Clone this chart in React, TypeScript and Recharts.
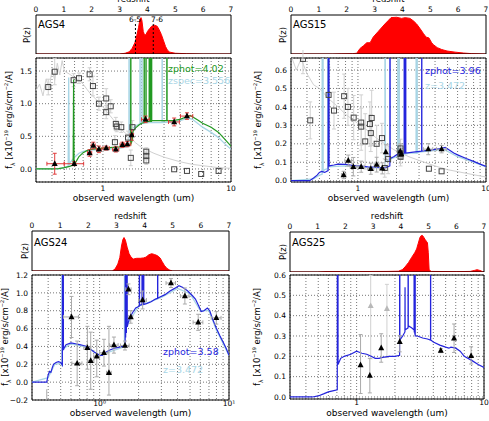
import React from "react";
import {
  ComposedChart,
  AreaChart,
  Area,
  Line,
  Scatter,
  ErrorBar,
  XAxis,
  YAxis,
  CartesianGrid,
  ReferenceArea,
  ReferenceLine,
} from "recharts";

type Pt = [number, number];

const FONT = "'DejaVu Sans', sans-serif";
const RED = "#ff0000";
const GREEN = "#229922";
const BLUE = "#2424dc";
const LIGHTBLUE = "#a8d5e5";
const GREY = "#d0d0d0";

const zTicks = [0, 1, 2, 3, 4, 5, 6, 7];
const lamTicks = [0.3, 0.4, 0.5, 0.6, 0.7, 0.8, 0.9, 1, 2, 3, 4, 5, 6, 7, 8, 9, 10];

// P(z) curves
const pz4: Pt[] = [[0, 0], [3.0, 0], [3.2, 0.02], [3.35, 0.06], [3.45, 0.15], [3.55, 0.3], [3.62, 0.5], [3.68, 0.7], [3.73, 0.92], [3.77, 0.97], [3.8, 0.9], [3.85, 0.6], [3.9, 0.5], [3.95, 0.52], [4.0, 0.6], [4.08, 0.68], [4.15, 0.74], [4.25, 0.77], [4.35, 0.74], [4.42, 0.65], [4.5, 0.52], [4.58, 0.35], [4.65, 0.2], [4.72, 0.1], [4.8, 0.05], [5.0, 0.02], [5.4, 0.008], [6.0, 0], [7, 0]];
const pz15: Pt[] = [[0, 0], [1.5, 0], [1.8, 0.005], [2.2, 0.01], [2.36, 0.02], [2.48, 0.15], [2.6, 0.22], [2.72, 0.3], [2.84, 0.3], [2.95, 0.45], [3.13, 0.6], [3.37, 0.8], [3.5, 0.9], [3.59, 0.97], [3.79, 0.98], [3.97, 0.95], [4.1, 0.97], [4.27, 0.95], [4.4, 0.88], [4.51, 0.8], [4.63, 0.68], [4.75, 0.55], [4.85, 0.45], [4.95, 0.43], [5.05, 0.3], [5.11, 0.25], [5.25, 0.17], [5.41, 0.12], [5.6, 0.08], [5.89, 0.05], [6.2, 0.025], [6.49, 0.01], [7, 0]];
const pz24: Pt[] = [[0, 0], [2.85, 0], [2.95, 0.05], [3.05, 0.18], [3.12, 0.35], [3.18, 0.65], [3.23, 0.82], [3.27, 0.87], [3.32, 0.8], [3.38, 0.62], [3.45, 0.45], [3.52, 0.36], [3.6, 0.31], [3.72, 0.33], [3.85, 0.33], [3.96, 0.34], [4.05, 0.36], [4.15, 0.42], [4.25, 0.45], [4.35, 0.43], [4.45, 0.4], [4.55, 0.34], [4.62, 0.25], [4.7, 0.15], [4.79, 0.07], [4.9, 0.02], [5.0, 0], [7, 0]];
const pz25: Pt[] = [[0, 0], [1.0, 0], [1.3, 0.01], [2.5, 0.012], [3.5, 0.015], [3.91, 0.02], [4.05, 0.06], [4.15, 0.13], [4.28, 0.25], [4.39, 0.38], [4.5, 0.5], [4.57, 0.6], [4.63, 0.75], [4.69, 0.9], [4.74, 0.95], [4.78, 0.95], [4.83, 0.9], [4.87, 0.85], [4.92, 0.8], [4.96, 0.76], [4.99, 0.5], [5.02, 0.05], [5.1, 0.015], [6.0, 0.01], [6.5, 0.015], [6.65, 0.04], [6.75, 0.06], [6.85, 0.04], [6.95, 0.01], [7, 0.005]];

// AGS4 SED
const sed4Model: Pt[] = [[0.3, 0], [0.4, 0], [0.45, 0.005], [0.5, 0.02], [0.55, 0.04], [0.585, 0.06], [0.59, 1.37], [0.595, 0.07], [0.62, 0.12], [0.65, 0.19], [0.7, 0.25], [0.75, 0.28], [0.8, 0.3], [0.9, 0.31], [1.0, 0.32], [1.2, 0.33], [1.4, 0.34], [1.55, 0.36], [1.645, 0.37], [1.65, 5], [1.655, 0.38], [1.7, 0.45], [1.72, 0.58], [1.8, 0.63], [1.9, 0.67], [2.0, 0.7], [2.095, 0.71], [2.1, 5], [2.105, 0.71], [2.165, 0.72], [2.17, 5], [2.175, 0.72], [2.295, 0.73], [2.3, 5], [2.305, 0.73], [2.345, 0.73], [2.35, 5], [2.355, 0.73], [2.395, 0.73], [2.4, 5], [2.405, 0.74], [2.7, 0.74], [3.15, 0.74], [3.16, 5], [3.17, 0.74], [3.5, 0.74], [4.0, 0.76], [4.5, 0.8], [4.8, 0.82], [5.5, 0.75], [6.0, 0.7], [7.0, 0.64], [8.0, 0.56], [9.0, 0.45], [10, 0.35]];
const sed4Spec: Pt[] = [[0.3, 0], [0.45, 0], [0.5, 0.02], [0.535, 0.04], [0.54, 1.4], [0.545, 0.05], [0.55, 0.09], [0.6, 0.18], [0.65, 0.24], [0.7, 0.27], [0.8, 0.29], [1.0, 0.3], [1.3, 0.31], [1.55, 0.34], [1.595, 0.35], [1.6, 5], [1.605, 0.5], [1.65, 0.6], [1.8, 0.66], [1.945, 0.69], [1.95, 5], [1.955, 0.7], [2.015, 0.7], [2.02, 5], [2.025, 0.7], [2.3, 0.71], [2.895, 0.71], [2.9, 5], [2.905, 0.71], [3.5, 0.72], [4.0, 0.74], [4.6, 0.78], [5.0, 0.76], [6.0, 0.64], [7.0, 0.56], [8.0, 0.48], [9.0, 0.38], [10, 0.3]];
const sed4Alt: Pt[] = [[0.3, 1.2], [0.32, 1.3], [0.34, 1.12], [0.36, 1.38], [0.38, 1.22], [0.4, 1.52], [0.42, 1.36], [0.44, 1.62], [0.46, 1.44], [0.48, 1.66], [0.5, 1.5], [0.55, 1.45], [0.6, 1.4], [0.65, 1.36], [0.7, 1.3], [0.75, 1.22], [0.8, 1.15], [0.9, 1.05], [1.0, 0.95], [1.1, 0.85], [1.2, 0.76], [1.4, 0.6], [1.6, 0.5], [1.8, 0.4], [2.0, 0.33], [2.5, 0.24], [3.0, 0.18], [4.0, 0.11], [5.0, 0.07], [6.0, 0.05], [8.0, 0.02], [10, 0.01]];
const sed4Phot = [
  { x: 0.42, y: 0.08, ex: [0.055, 0.08], ey: 0.16 },
  { x: 0.597, y: 0.08, ex: [0.1, 0.11], ey: 0.03 },
  { x: 0.787, y: 0.245, ex: 0.03, ey: 0.05 },
  { x: 0.84, y: 0.36, ex: 0.03, ey: 0.05 },
  { x: 0.93, y: 0.3, ex: 0.04, ey: 0.05 },
  { x: 1.06, y: 0.32, ex: 0.06, ey: 0.03 },
  { x: 1.26, y: 0.3, ex: 0.07, ey: 0.04 },
  { x: 1.42, y: 0.37, ex: 0.06, ey: 0.04 },
  { x: 1.55, y: 0.38, ex: 0.1, ey: 0.04 },
  { x: 1.68, y: 0.52, ex: 0.05, ey: 0.08 },
  { x: 2.15, y: 0.76, ex: 0.15, ey: 0.05 },
  { x: 3.6, y: 0.72, ex: 0.35, ey: 0.06 },
  { x: 4.53, y: 0.81, ex: 0.5, ey: 0.05 },
];
const sed4Sq = [
  { x: 0.374, y: 1.255, ey: 0.12 }, { x: 0.42, y: 1.49, ey: 0.2 }, { x: 0.59, y: 1.36, ey: 0.1 },
  { x: 0.65, y: 1.39, ey: 0.08 }, { x: 0.787, y: 1.45, ey: 0.1 }, { x: 0.835, y: 1.27, ey: 0.15 },
  { x: 0.93, y: 1.0, ey: 0.1 }, { x: 1.06, y: 1.08, ey: 0.15 }, { x: 1.06, y: 0.87, ey: 0.1 },
  { x: 1.15, y: 0.96, ey: 0.1 }, { x: 1.26, y: 0.69, ey: 0.1 }, { x: 1.28, y: 0.65, ey: 0.08 },
  { x: 1.39, y: 0.64, ey: 0.08 }, { x: 1.24, y: 0.41, ey: 0.1 }, { x: 1.57, y: 0.48, ey: 0.1 },
  { x: 1.7, y: 0.64, ey: 0.1 }, { x: 1.65, y: 0.17, ey: 0.12 }, { x: 2.18, y: 0.265, ey: 0.06 },
  { x: 2.18, y: 0.2, ey: 0.06 }, { x: 2.18, y: 0.13, ey: 0.06 }, { x: 3.6, y: -0.005 },
  { x: 4.53, y: -0.03 }, { x: 5.85, y: -0.077 }, { x: 8.0, y: -0.03 },
];

// AGS15 SED
const sed15Model: Pt[] = [[0.3, 0], [0.42, 0], [0.45, 0.015], [0.48, 0.03], [0.5, 0.045], [0.52, 0.05], [0.55, 0.045], [0.585, 0.055], [0.59, 5], [0.595, 0.08], [0.65, 0.085], [0.7, 0.09], [0.8, 0.088], [0.9, 0.083], [1.0, 0.08], [1.2, 0.075], [1.4, 0.073], [1.6, 0.07], [1.7, 0.075], [1.775, 0.08], [1.78, 5], [1.785, 0.12], [1.9, 0.13], [2.0, 0.14], [2.1, 0.145], [2.295, 0.15], [2.3, 5], [2.305, 0.15], [2.325, 0.15], [2.33, 5], [2.335, 0.15], [2.355, 0.15], [2.36, 5], [2.365, 0.15], [2.7, 0.155], [3.145, 0.16], [3.15, 5], [3.155, 0.16], [3.6, 0.165], [4.0, 0.17], [4.5, 0.175], [4.8, 0.18], [5.2, 0.165], [5.6, 0.15], [6.0, 0.14], [7.0, 0.12], [8.0, 0.105], [9.0, 0.09], [10, 0.078]];
const sed15Spec: Pt[] = [[0.3, 0], [0.45, 0.01], [0.5, 0.03], [0.525, 0.035], [0.53, 5], [0.535, 0.05], [0.55, 0.06], [0.58, 0.065], [0.585, 5], [0.59, 0.075], [0.8, 0.08], [1.0, 0.075], [1.5, 0.068], [1.625, 0.07], [1.63, 5], [1.635, 0.1], [1.7, 0.11], [2.0, 0.13], [2.045, 0.13], [2.05, 5], [2.055, 0.13], [2.095, 0.13], [2.1, 5], [2.105, 0.135], [2.5, 0.15], [2.845, 0.15], [2.85, 5], [2.855, 0.15], [2.895, 0.15], [2.9, 5], [2.905, 0.15], [3.0, 0.155], [4.0, 0.165], [4.7, 0.17], [6.0, 0.13], [8.0, 0.1], [10, 0.075]];
const sed15Alt: Pt[] = [[0.3, 0.68], [0.33, 0.6], [0.36, 0.66], [0.4, 0.58], [0.45, 0.52], [0.5, 0.5], [0.6, 0.44], [0.7, 0.4], [0.8, 0.36], [1.0, 0.31], [1.2, 0.27], [1.4, 0.23], [1.7, 0.19], [2.0, 0.16], [2.5, 0.13], [3.0, 0.11], [4.0, 0.08], [5.0, 0.06], [7.0, 0.04], [10, 0.02]];
const sed15Phot = [
  { x: 0.773, y: 0.031, ey: 0.02, ex: 0.03 }, { x: 0.84, y: 0.109, ey: 0.03, ex: 0.05 },
  { x: 0.92, y: 0.076, ey: 0.05, ex: 0.05 }, { x: 1.06, y: 0.076, ey: 0.03, ex: 0.06 },
  { x: 1.26, y: 0.065, ey: 0.03, ex: 0.07 }, { x: 1.4, y: 0.087, ey: 0.04, ex: 0.06 },
  { x: 1.55, y: 0.067, ey: 0.03, ex: 0.08 }, { x: 1.65, y: 0.155, ey: 0.04 },
  { x: 2.14, y: 0.16, ey: 0.04, ex: 0.12 }, { x: 2.18, y: 0.145, ey: 0.03 },
  { x: 3.54, y: 0.171, ey: 0.03, ex: 0.3 }, { x: 4.5, y: 0.171, ey: 0.02, ex: 0.4 },
];
const sed15Sq = [
  { x: 0.372, y: 0.66, ey: 0.08 }, { x: 0.424, y: 0.327, ey: 0.1 }, { x: 0.59, y: 0.465, ey: 0.15 },
  { x: 0.65, y: 0.38, ey: 0.1 }, { x: 0.78, y: 0.458, ey: 0.12 }, { x: 0.835, y: 0.4, ey: 0.1 },
  { x: 0.926, y: 0.342, ey: 0.12 }, { x: 1.06, y: 0.315, ey: 0.15 }, { x: 1.06, y: 0.293, ey: 0.1 },
  { x: 1.14, y: 0.213, ey: 0.15 }, { x: 1.24, y: 0.307, ey: 0.12 }, { x: 1.28, y: 0.34, ey: 0.15 },
  { x: 1.26, y: 0.258, ey: 0.1 }, { x: 1.4, y: 0.2, ey: 0.1 }, { x: 1.54, y: 0.231, ey: 0.08 },
  { x: 1.62, y: 0.069, ey: 0.05 }, { x: 1.72, y: 0.118, ey: 0.08 }, { x: 2.15, y: 0.175, ey: 0.05 },
  { x: 2.15, y: 0.145, ey: 0.05 }, { x: 2.15, y: 0.13, ey: 0.05 }, { x: 3.58, y: 0.065 }, { x: 4.5, y: 0.051 },
];

// AGS24 SED
const sed24Model: Pt[] = [[0.3, 0], [0.39, 0], [0.4, 0.08], [0.41, 0.12], [0.42, 0.11], [0.43, 0.16], [0.44, 0.2], [0.46, 0.22], [0.48, 0.23], [0.5, 0.22], [0.515, 0.19], [0.52, 5], [0.525, 0.36], [0.53, 0.38], [0.55, 0.42], [0.6, 0.44], [0.65, 0.43], [0.7, 0.42], [0.75, 0.41], [0.8, 0.4], [0.85, 0.37], [0.9, 0.34], [0.95, 0.32], [1.0, 0.3], [1.05, 0.3], [1.1, 0.33], [1.2, 0.36], [1.3, 0.38], [1.4, 0.39], [1.5, 0.4], [1.575, 0.42], [1.58, 5], [1.59, 0.5], [1.6, 5], [1.61, 0.55], [1.625, 5], [1.635, 0.62], [1.7, 0.72], [1.8, 0.78], [1.9, 0.83], [2.025, 0.85], [2.03, 5], [2.035, 0.86], [2.125, 0.87], [2.13, 5], [2.135, 0.87], [2.155, 0.87], [2.16, 5], [2.165, 0.87], [2.185, 0.87], [2.19, 5], [2.195, 0.87], [2.3, 0.88], [2.5, 0.9], [2.7, 0.93], [2.805, 0.94], [2.81, 5], [2.815, 0.94], [2.9, 0.95], [3.2, 0.98], [3.5, 1.02], [3.8, 1.05], [4.1, 1.08], [4.4, 1.06], [4.8, 1.02], [5.2, 0.97], [5.5, 0.93], [5.8, 0.86], [6.1, 0.79], [6.4, 0.8], [6.8, 0.83], [7.1, 0.8], [7.5, 0.7], [8.0, 0.6], [8.5, 0.52], [9.0, 0.45], [9.5, 0.38], [10, 0.3]];
const sed24Spec: Pt[] = [[0.3, 0], [0.4, 0.05], [0.45, 0.2], [0.5, 0.21], [0.51, 0.19], [0.515, 5], [0.52, 0.37], [0.6, 0.43], [0.8, 0.39], [1.0, 0.3], [1.5, 0.39], [1.555, 0.4], [1.56, 5], [1.565, 0.6], [2.0, 0.85], [3.0, 0.95], [4.0, 1.05], [5.0, 0.99], [6.0, 0.8], [7.0, 0.8], [8.0, 0.58], [10, 0.3]];
const sed24Phot = [
  { x: 0.606, y: 0.73, ey: 0.23, ex: 0.08 }, { x: 0.67, y: 0.21, ey: 0.25, ex: 0.06 },
  { x: 0.804, y: 0.385, ey: 0.24, ex: 0.05 }, { x: 0.853, y: 0.24, ey: 0.32, ex: 0.05 },
  { x: 0.95, y: 0.29, ey: [0.23, 0.18], ex: 0.05 }, { x: 1.08, y: 0.33, ey: 0.15, ex: 0.08 },
  { x: 1.18, y: 0.105, ey: [0.25, 0.52], ex: 0.05 }, { x: 1.29, y: 0.415, ey: 0.09, ex: 0.1 },
  { x: 1.57, y: 0.41, ey: 0.05, ex: 0.12 }, { x: 1.67, y: 1.04, ey: 0.06, ex: 0.08 },
  { x: 1.74, y: 0.73, ey: 0.07, ex: 0.06 }, { x: 2.15, y: 0.92, ey: 0.1, ex: 0.15 },
  { x: 3.56, y: 1.11, ey: 0.05, ex: 0.3 }, { x: 4.56, y: 0.965, ey: 0.09, ex: 0.35 },
  { x: 5.78, y: 0.67, ey: 0.09, ex: 0.5 }, { x: 7.98, y: 0.72, ey: 0.07, ex: 0.7 },
];
// the upper part of an error bar whose point lies below the frame
const sed24Low = [{ x: 0.39, y: -0.14, ey: 0.06 }];

// AGS25 SED
const sed25Model: Pt[] = [[0.3, 0], [0.45, 0], [0.5, 0.005], [0.55, 0.015], [0.6, 0.025], [0.65, 0.03], [0.705, 0.035], [0.71, 5], [0.715, 0.16], [0.75, 0.19], [0.8, 0.2], [0.9, 0.21], [1.0, 0.225], [1.05, 0.22], [1.1, 0.215], [1.2, 0.21], [1.3, 0.2], [1.4, 0.19], [1.5, 0.19], [1.6, 0.195], [1.8, 0.2], [2.0, 0.2], [2.175, 0.205], [2.18, 5], [2.185, 0.28], [2.3, 0.3], [2.395, 0.32], [2.4, 0.54], [2.405, 0.33], [2.535, 0.34], [2.54, 5], [2.545, 0.35], [2.7, 0.34], [2.825, 0.33], [2.83, 5], [2.835, 0.32], [2.855, 0.32], [2.86, 5], [2.865, 0.31], [2.875, 0.31], [2.88, 5], [2.885, 0.3], [3.0, 0.3], [3.3, 0.29], [3.6, 0.285], [3.805, 0.28], [3.81, 5], [3.815, 0.28], [4.0, 0.27], [4.5, 0.255], [5.0, 0.245], [5.3, 0.24], [5.5, 0.245], [6.0, 0.24], [6.5, 0.225], [7.0, 0.2], [8.0, 0.18], [9.0, 0.16], [10, 0.145]];
const sed25Phot = [
  { x: 1.074, y: 0.157, ey: [0.14, 0.15] }, { x: 1.27, y: 0.105, ey: 0.085 },
  { x: 1.56, y: 0.241, ey: 0.07 }, { x: 2.18, y: 0.272, ey: [0.05, 0.03] },
  { x: 4.58, y: 0.228, ey: 0.01 }, { x: 5.82, y: 0.289, ey: 0.07 }, { x: 7.92, y: 0.202, ey: [0.04, 0.045] },
];
const sed25Weak = [
  { x: 1.29, y: 0.448, ey: [0.26, 0.15] },
  { x: 1.73, y: 0.434, ey: [0.24, 0.12] },
];

const toXY = (a: Pt[]) => a.map(([x, y]) => ({ x, y }));
const toZP = (a: Pt[]) => a.map(([z, p]) => ({ z, p }));

const tickStyle = { fontSize: 7.5, fill: "#000", fontFamily: FONT };

const triangle = (color: string) => (props: any) => {
  const { cx, cy } = props;
  if (cx == null || cy == null) return <g />;
  return <polygon points={`${cx},${cy - 3.5} ${cx - 3},${cy + 2.2} ${cx + 3},${cy + 2.2}`} fill={color} />;
};
const square = (props: any) => {
  const { cx, cy } = props;
  if (cx == null || cy == null) return <g />;
  return <rect x={cx - 2.5} y={cy - 2.5} width={5} height={5} fill="none" stroke="#444" strokeWidth={1} />;
};
const noMark = () => <g />;

const fmtY = (v: number) => v.toFixed(1).replace("-", "\u2212");

function Txt({ x, y, size = 9, color = "#000", center = false, children }: any) {
  return (
    <div
      style={{
        position: "absolute",
        left: x,
        top: y,
        transform: center ? "translate(-50%, -50%)" : "translateY(-50%)",
        fontSize: size,
        lineHeight: 1,
        color,
        whiteSpace: "nowrap",
        fontFamily: FONT,
      }}
    >
      {children}
    </div>
  );
}

function RotTxt({ x, y, size = 8.5, children }: any) {
  return (
    <div
      style={{
        position: "absolute",
        left: x,
        top: y,
        transform: "translate(-50%, -50%) rotate(-90deg)",
        fontSize: size,
        lineHeight: 1,
        whiteSpace: "nowrap",
        fontFamily: FONT,
      }}
    >
      {children}
    </div>
  );
}

const FLabel = () => (
  <>
    f<sub style={{ fontSize: 6 }}>λ</sub> [x10<sup style={{ fontSize: 5 }}>−19</sup> erg/s/cm<sup style={{ fontSize: 5 }}>−2</sup>/A]
  </>
);

function PzPanel({ left, top, width, height, yWidth, right, data, marks }: any) {
  return (
    <div style={{ position: "absolute", left, top }}>
      <AreaChart width={width} height={height} data={toZP(data)} margin={{ top: 10, right, left: 0, bottom: 0 }}>
        <XAxis
          dataKey="z"
          type="number"
          domain={[0, 7]}
          ticks={zTicks}
          interval={0}
          orientation="top"
          height={21}
          axisLine={false}
          tickLine={false}
          tickSize={0}
          tickMargin={3}
          tick={tickStyle}
        />
        <YAxis type="number" domain={[0, 1.04]} width={yWidth} tick={false} axisLine={false} tickLine={false} />
        <Area
          dataKey="p"
          type="linear"
          stroke={RED}
          strokeWidth={1}
          fill={RED}
          fillOpacity={1}
          dot={false}
          activeDot={false}
          isAnimationActive={false}
        />
        {(marks || []).map((z: number) => (
          <ReferenceLine
            key={z}
            segment={[{ x: z, y: 0 }, { x: z, y: 0.86 }]}
            stroke="#000"
            strokeDasharray="2 2"
            strokeWidth={1}
          />
        ))}
        <ReferenceArea x1={0} x2={7} y1={0} y2={1.04} fill="none" stroke="#000" strokeWidth={1} />
      </AreaChart>
    </div>
  );
}

function SedPanel({ left, top, width, height, yWidth, right, xHeight, xMargin, yDomain, yTicks, xFmt, alt, spec, model, color, squares, phot, photErr, weak, low }: any) {
  return (
    <div style={{ position: "absolute", left, top }}>
      <ComposedChart width={width} height={height} margin={{ top: 8, right, left: 0, bottom: 0 }}>
        <CartesianGrid stroke="#777" strokeDasharray="1 2" />
        <XAxis
          dataKey="x"
          type="number"
          scale="log"
          domain={[0.3, 10]}
          ticks={lamTicks}
          interval={0}
          tickFormatter={xFmt}
          allowDataOverflow
          axisLine={false}
          tickLine={false}
          tickSize={0}
          tickMargin={xMargin}
          height={xHeight}
          tick={tickStyle}
        />
        <YAxis
          dataKey="y"
          type="number"
          domain={yDomain}
          ticks={yTicks}
          interval={0}
          tickFormatter={fmtY}
          allowDataOverflow
          axisLine={false}
          tickLine={false}
          tickSize={0}
          tickMargin={4}
          width={yWidth}
          tick={tickStyle}
        />
        {alt && (
          <Line data={toXY(alt)} dataKey="y" type="linear" stroke={GREY} strokeWidth={1} dot={false} activeDot={false} isAnimationActive={false} />
        )}
        {spec && (
          <Line data={toXY(spec)} dataKey="y" type="linear" stroke={LIGHTBLUE} strokeWidth={1.3} dot={false} activeDot={false} isAnimationActive={false} />
        )}
        {squares && (
          <Scatter data={squares} dataKey="y" shape={square} isAnimationActive={false}>
            <ErrorBar dataKey="ey" direction="y" stroke={GREY} strokeWidth={1} width={2} />
          </Scatter>
        )}
        {weak && (
          <Scatter data={weak} dataKey="y" shape={triangle("#b8b8b8")} isAnimationActive={false}>
            <ErrorBar dataKey="ey" direction="y" stroke={GREY} strokeWidth={1} width={2} />
          </Scatter>
        )}
        {low && (
          <Scatter data={low} dataKey="y" shape={noMark} isAnimationActive={false}>
            <ErrorBar dataKey="ey" direction="y" stroke="#aaaaaa" strokeWidth={1} width={0} />
          </Scatter>
        )}
        <Line data={toXY(model)} dataKey="y" type="linear" stroke={color} strokeWidth={1.2} dot={false} activeDot={false} isAnimationActive={false} />
        <Scatter data={phot} dataKey="y" shape={triangle("#000")} isAnimationActive={false}>
          <ErrorBar dataKey="ey" direction="y" stroke={photErr} strokeWidth={1} width={2} />
          <ErrorBar dataKey="ex" direction="x" stroke={photErr} strokeWidth={1} width={2} />
        </Scatter>
        <ReferenceArea x1={0.3} x2={10} y1={yDomain[0]} y2={yDomain[1]} fill="none" stroke="#000" strokeWidth={1} />
      </ComposedChart>
    </div>
  );
}

const fmtLin = (v: number) => (v === 1 ? "1" : v === 10 ? "10" : "");
const fmtPow = (v: number) => (v === 1 ? "10\u2070" : v === 10 ? "10\u00B9" : "");

export default function App() {
  return (
    <div style={{ position: "absolute", left: 0, top: 0, width: 489, height: 421, overflow: "hidden", background: "#fff", fontFamily: FONT }}>
      {/* AGS4 */}
      <PzPanel left={0} top={-16} width={245} height={70} yWidth={36} right={14} data={pz4} marks={[3.57, 4.21]} />
      <SedPanel
        left={0} top={50} width={245} height={150} yWidth={36} right={14} xHeight={18} xMargin={4}
        yDomain={[-0.2, 1.7]} yTicks={[0, 0.5, 1.0, 1.5]} xFmt={fmtLin}
        alt={sed4Alt} spec={sed4Spec} model={sed4Model} color={GREEN}
        squares={sed4Sq} phot={sed4Phot} photErr="#e03a3a"
      />
      {/* AGS15 */}
      <PzPanel left={245} top={-16} width={244} height={70} yWidth={46} right={3} data={pz15} />
      <SedPanel
        left={245} top={50} width={244} height={150} yWidth={46} right={3} xHeight={18} xMargin={4}
        yDomain={[-0.007, 0.665]} yTicks={[0, 0.1, 0.2, 0.3, 0.4, 0.5, 0.6]} xFmt={fmtLin}
        alt={sed15Alt} spec={sed15Spec} model={sed15Model} color={BLUE}
        squares={sed15Sq} phot={sed15Phot} photErr="#aaaaaa"
      />
      {/* AGS24 */}
      <PzPanel left={0} top={200} width={245} height={71} yWidth={32} right={16} data={pz24} />
      <SedPanel
        left={0} top={267} width={245} height={153} yWidth={32} right={16} xHeight={20} xMargin={1}
        yDomain={[-0.2, 1.2]} yTicks={[-0.2, 0, 0.2, 0.4, 0.6, 0.8, 1.0, 1.2]} xFmt={fmtPow}
        spec={sed24Spec} model={sed24Model} color={BLUE}
        phot={sed24Phot} photErr="#aaaaaa" low={sed24Low}
      />
      {/* AGS25 */}
      <PzPanel left={245} top={201} width={244} height={71} yWidth={45} right={5} data={pz25} />
      <SedPanel
        left={245} top={267} width={244} height={153} yWidth={45} right={5} xHeight={21} xMargin={1}
        yDomain={[-0.01, 0.6]} yTicks={[0, 0.1, 0.2, 0.3, 0.4, 0.5, 0.6]} xFmt={fmtLin}
        model={sed25Model} color={BLUE} weak={sed25Weak}
        phot={sed25Phot} photErr="#aaaaaa"
      />

      {/* titles and annotations */}
      <Txt x={133.5} y={-1} size={8.5} center>redshift</Txt>
      <Txt x={388.5} y={-1} size={8.5} center>redshift</Txt>
      <Txt x={130.5} y={216} size={8.5} center>redshift</Txt>
      <Txt x={387} y={216} size={8.5} center>redshift</Txt>

      <Txt x={133.5} y={198} size={9} center>observed wavelength (um)</Txt>
      <Txt x={388.5} y={198} size={9} center>observed wavelength (um)</Txt>
      <Txt x={130.5} y={413} size={9} center>observed wavelength (um)</Txt>
      <Txt x={387} y={413} size={9} center>observed wavelength (um)</Txt>

      <RotTxt x={10} y={120}><FLabel /></RotTxt>
      <RotTxt x={259} y={120}><FLabel /></RotTxt>
      <RotTxt x={6} y={337}><FLabel /></RotTxt>
      <RotTxt x={258} y={337}><FLabel /></RotTxt>

      <RotTxt x={27} y={35}>P(z)</RotTxt>
      <RotTxt x={283} y={35}>P(z)</RotTxt>
      <RotTxt x={25} y={251}>P(z)</RotTxt>
      <RotTxt x={283} y={252}>P(z)</RotTxt>

      <Txt x={38} y={25} size={10}>AGS4</Txt>
      <Txt x={293} y={25} size={10}>AGS15</Txt>
      <Txt x={34} y={243} size={10}>AGS24</Txt>
      <Txt x={292} y={243} size={10}>AGS25</Txt>

      <Txt x={135} y={20} size={7.5} center>6-5</Txt>
      <Txt x={157} y={20} size={7.5} center>7-6</Txt>

      <Txt x={168} y={69} size={9.5} color={GREEN}>zphot=4.02</Txt>
      <Txt x={168} y={81} size={9.5} color={LIGHTBLUE}>zspec=3.556</Txt>
      <Txt x={425} y={71} size={9.5} color={BLUE}>zphot=3.96</Txt>
      <Txt x={425} y={86} size={9.5} color={LIGHTBLUE}>z=3.472</Txt>
      <Txt x={163} y={352} size={9.5} color={BLUE}>zphot=3.58</Txt>
      <Txt x={163} y={370} size={9.5} color={LIGHTBLUE}>z=3.472</Txt>
    </div>
  );
}
